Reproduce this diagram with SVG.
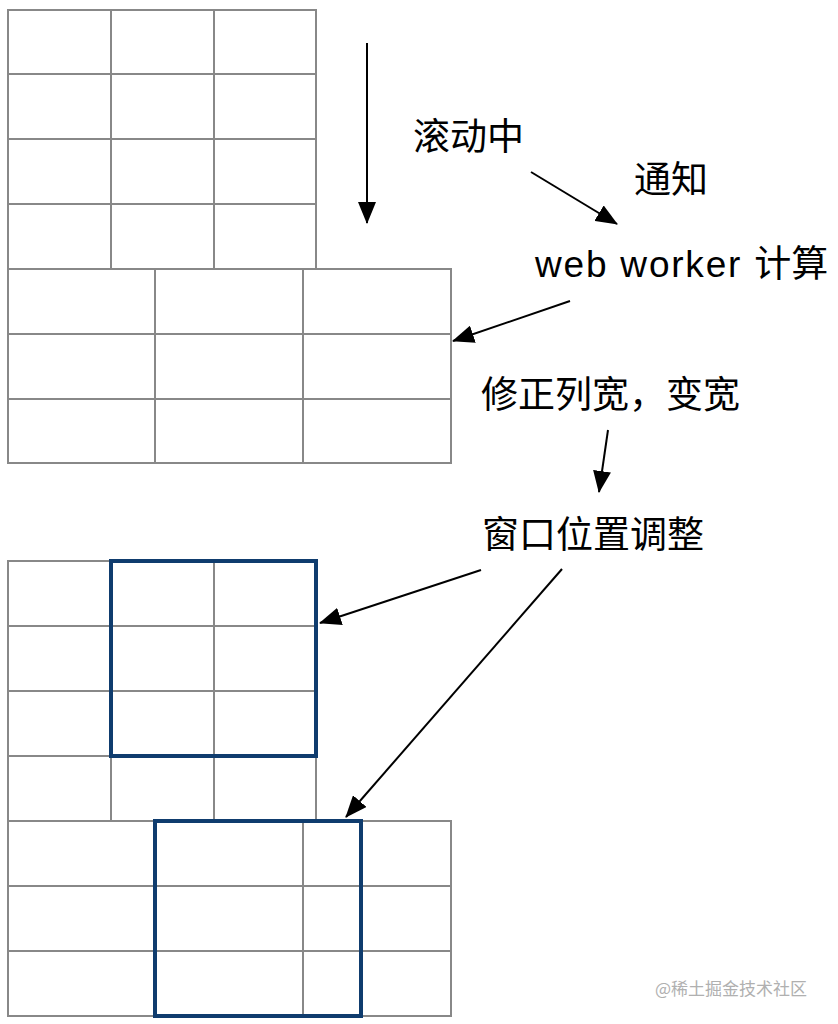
<svg xmlns="http://www.w3.org/2000/svg" width="838" height="1024" viewBox="0 0 838 1024">
<style>
.g{fill:none;stroke:#888;stroke-width:2}
.b{fill:none;stroke:#0f3c6e;stroke-width:4}
.a{fill:none;stroke:#000;stroke-width:2;marker-end:url(#ah)}
.t{font-family:"Liberation Sans","Noto Sans CJK SC",sans-serif;font-size:37px;fill:#000}
.w{font-family:"Noto Sans CJK SC",sans-serif;font-size:17px;fill:#b0b0b0}
</style>
<defs>
<marker id="ah" markerUnits="userSpaceOnUse" markerWidth="22" markerHeight="18" refX="21" refY="9" orient="auto" viewBox="0 0 22 18">
<path d="M0,0 L22,9 L0,18 z" fill="#000"/>
</marker>
</defs>
<rect width="838" height="1024" fill="#fff"/>
<g id="grid-before">
<rect class="g" x="8" y="10" width="308" height="259"/>
<path class="g" d="M111,10V269M214,10V269M8,74H316M8,139H316M8,204H316"/>
<rect class="g" x="8" y="269" width="443" height="194"/>
<path class="g" d="M155,269V463M303,269V463M8,334H451M8,399H451"/>
</g>
<g id="grid-after">
<rect class="g" x="8" y="561" width="308" height="260"/>
<path class="g" d="M111,561V821M214,561V821M8,626H316M8,691H316M8,756H316"/>
<rect class="g" x="8" y="821" width="443" height="195"/>
<path class="g" d="M155,821V1016M303,821V1016M8,886H451M8,951H451"/>
<rect class="b" x="111" y="561" width="205" height="195"/>
<rect class="b" x="155" y="821" width="206" height="195"/>
</g>
<g id="label-scrolling"><text class="t" x="413" y="150">滚动中</text></g>
<g id="label-notify"><text class="t" x="634" y="193">通知</text></g>
<g id="label-worker"><text class="t" x="535" y="277" font-size="36"><tspan letter-spacing="1.8">web worker </tspan>计算</text></g>
<g id="label-fix"><text class="t" x="481" y="408" font-size="38">修正列宽，变宽</text></g>
<g id="label-adjust"><text class="t" x="482" y="548">窗口位置调整</text></g>
<g id="connectors">
<line class="a" x1="367" y1="43" x2="367" y2="223"/>
<line class="a" x1="531" y1="172" x2="617" y2="224"/>
<line class="a" x1="570" y1="301" x2="453" y2="341"/>
<line class="a" x1="608" y1="430" x2="599" y2="492"/>
<line class="a" x1="481" y1="570" x2="320" y2="623"/>
<line class="a" x1="562" y1="569" x2="346" y2="817"/>
</g>
<text class="w" x="655" y="995">@稀土掘金技术社区</text>
</svg>
